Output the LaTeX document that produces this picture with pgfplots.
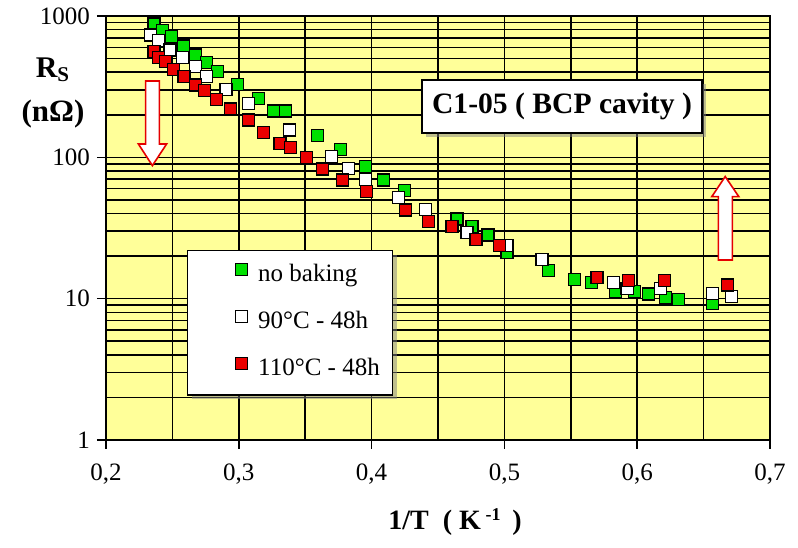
\documentclass[border=0pt]{standalone}
\usepackage{fontspec}
\setmainfont{Liberation Serif}
\usepackage{pgfplots}
\pgfplotsset{compat=1.18}
\usetikzlibrary{shadows}
\definecolor{bgyellow}{RGB}{255,255,153}
\definecolor{mgreen}{RGB}{0,225,0}
\definecolor{mred}{RGB}{235,0,0}
\begin{document}
\begin{tikzpicture}
\path[use as bounding box] (-53pt,-53.5pt) rectangle (346pt,220pt);
\begin{axis}[
  at={(0,0)}, anchor=south west,
  scale only axis, width=332pt, height=212pt,
  xmin=0.2, xmax=0.7, ymode=log, ymin=1, ymax=1000,
  xtick={0.2,0.3,0.4,0.5,0.6,0.7},
  xticklabels={{0,2},{0,3},{0,4},{0,5},{0,6},{0,7}},
  minor xtick={0.25,0.35,0.45,0.55,0.65},
  ytick={1,10,100,1000}, yticklabels={1,10,100,1000},
  minor ytick={2,3,4,5,6,7,8,9,20,30,40,50,60,70,80,90,200,300,400,500,600,700,800,900},
  grid=both,
  major grid style={black, line width=0.8pt},
  minor grid style={black, line width=0.8pt},
  axis background/.style={fill=bgyellow},
  tick align=outside, tick pos=left,
  major tick length=4.5pt, minor tick length=0pt,
  tick style={black, line width=0.8pt},
  axis line style={black, line width=1pt},
  /pgf/number format/assume math mode=true,
  ticklabel style={font=\fontsize{12.5}{14}\selectfont},
  xticklabel style={yshift=-4pt},
  legend style={at={(0.122,0.448)}, anchor=north west, draw=black, line width=0.6pt,
    fill=white, drop shadow={shadow xshift=2pt, shadow yshift=-2pt, fill=black!50},
    font=\fontsize{12.5}{14}\selectfont,
    inner xsep=6.5pt, inner ysep=6.6pt, row sep=11.5pt, column sep=5.5pt,
    nodes={inner sep=0pt, text height=9pt, text depth=3pt}},
  legend cell align=left,
  legend image code/.code={\path (-20pt,0pt); \draw[#1] plot coordinates {(0pt,3pt)};},
]
\addplot[only marks, mark=square*, mark size=3pt, mark options={fill=mgreen, draw=black, line width=0.6pt}] coordinates {
(0.2362,878) (0.2427,787) (0.2495,714) (0.2583,613) (0.2676,530) (0.2759,467) (0.2842,403) (0.2989,329) (0.3148,262) (0.3261,213) (0.3349,213) (0.3595,142) (0.3763,113) (0.3957,85.8) (0.4090,69.1) (0.4248,58.0) (0.4643,36.6) (0.4756,32.3) (0.4876,28.2) (0.5020,21.1) (0.5333,15.8) (0.5529,13.7) (0.5655,12.96) (0.5836,11.3) (0.5979,11.2) (0.6087,10.8) (0.6213,10.2) (0.6313,9.88) (0.6569,9.27)
};
\addplot[only marks, mark=square*, mark size=3pt, mark options={fill=white, draw=black, line width=0.6pt}] coordinates {
(0.2337,734) (0.2394,669) (0.2482,575) (0.2575,507) (0.2671,438) (0.2759,372) (0.2904,303) (0.3072,241) (0.3379,156) (0.3696,101) (0.3826,83.6) (0.3952,69.9) (0.4203,52.1) (0.4404,42.8) (0.4718,29.3) (0.5020,23.9) (0.5283,19.0) (0.5823,12.96) (0.5924,11.8) (0.6175,11.8) (0.6569,10.9) (0.6710,10.3)
};
\addplot[only marks, mark=square*, mark size=3pt, mark options={fill=mred, draw=black, line width=0.6pt}] coordinates {
(0.2362,559) (0.2394,510) (0.2450,475) (0.2507,421) (0.2588,372) (0.2676,325) (0.2739,296) (0.2834,257) (0.2940,220) (0.3072,184) (0.3185,149) (0.3311,126) (0.3392,117) (0.3512,99.3) (0.3630,82.6) (0.3781,69.1) (0.3964,57.1) (0.4253,42.4) (0.4429,35.0) (0.4605,32.6) (0.4786,26.3) (0.4962,23.9) (0.5698,14.1) (0.5936,13.5) (0.6207,13.4) (0.6682,12.5)
};
\legend{no baking, 90°C - 48h, 110°C - 48h}
\end{axis}
% title box
\node[draw=black, fill=white, line width=0.6pt,
  drop shadow={shadow xshift=2pt, shadow yshift=-2pt, fill=black!50},
  minimum width=140pt, minimum height=26.5pt, inner sep=0pt,
  font=\bfseries\fontsize{14.8}{16}\selectfont] at (228pt,166.75pt) {C1-05 ( BCP cavity )};
% arrows
\draw[red!90!black, line width=0.8pt, fill=white]
  (19.8pt,179.5pt) -- (26.7pt,179.5pt) -- (26.7pt,148pt) -- (30.3pt,148pt) -- (23.2pt,137.2pt) -- (16.2pt,148pt) -- (19.8pt,148pt) -- cycle;
\draw[red!90!black, line width=0.8pt, fill=white]
  (306.2pt,90pt) -- (313.2pt,90pt) -- (313.2pt,121.7pt) -- (316.4pt,121.7pt) -- (309.6pt,131.7pt) -- (302.9pt,121.7pt) -- (306.2pt,121.7pt) -- cycle;
% axis labels
\node[font=\bfseries\fontsize{14}{16}\selectfont] at (174.5pt,-41pt) {1/T\ \ ( K\,\raisebox{0.7ex}{\fontsize{9}{9}\selectfont -1}\, )};
\node[font=\bfseries\fontsize{15}{17}\selectfont] at (-26.5pt,185pt) {R\textsubscript{S}};
\node[font=\bfseries\fontsize{15.5}{17}\selectfont] at (-26.5pt,163pt) {(nΩ)};
\end{tikzpicture}
\end{document}
